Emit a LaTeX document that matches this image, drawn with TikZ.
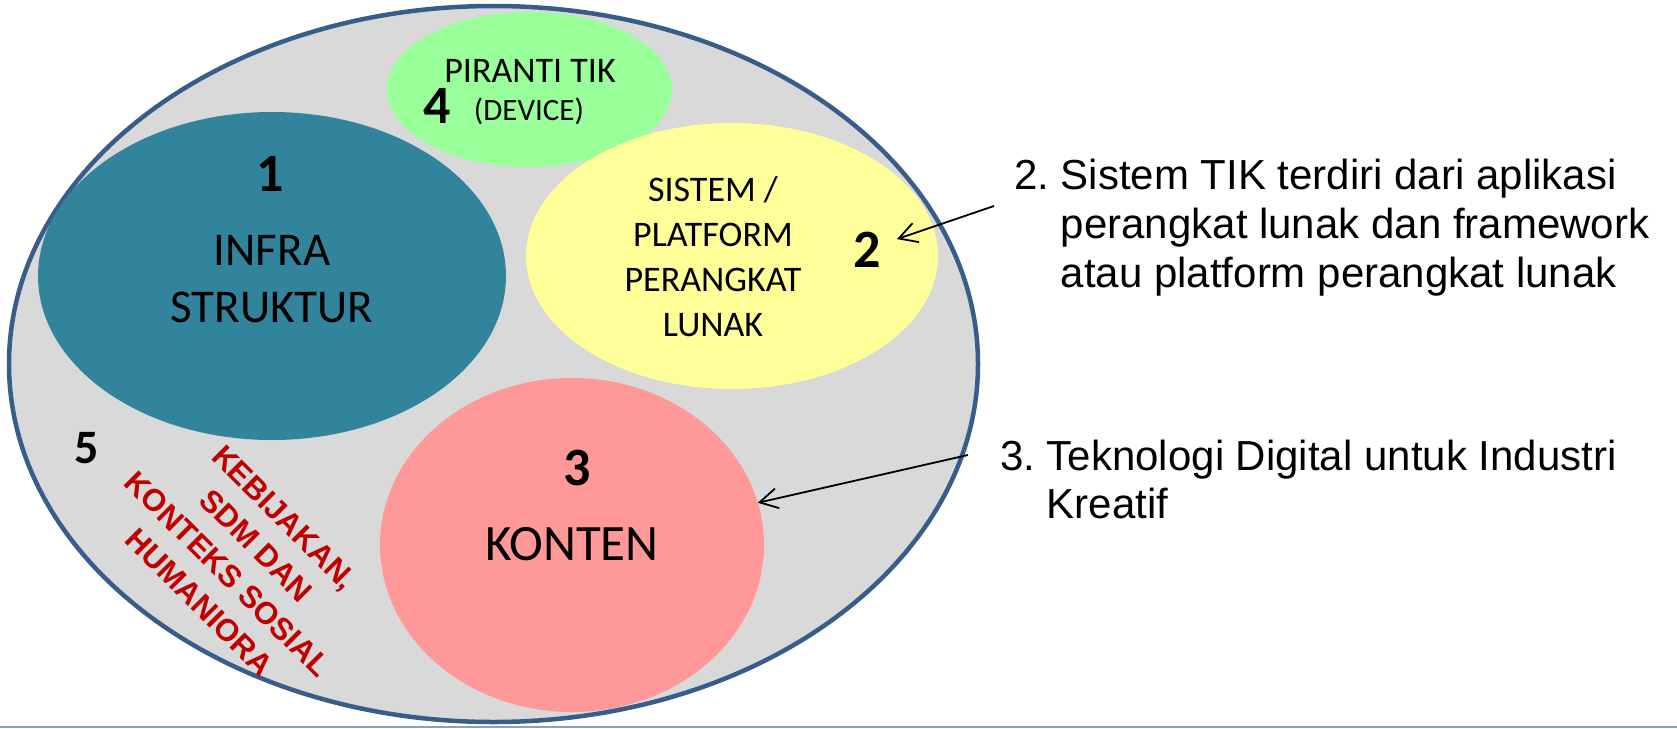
\documentclass[tikz,border=0pt]{standalone}
\usepackage{fontspec}
\setmainfont{Carlito}
\newfontfamily\arialfont{Liberation Sans}
\usetikzlibrary{shapes.geometric, arrows.meta, positioning}
\definecolor{rimblue}{RGB}{56,93,138}
\definecolor{zonegray}{RGB}{217,217,217}
\definecolor{infrateal}{RGB}{49,132,155}
\definecolor{devgreen}{RGB}{153,255,153}
\definecolor{sysyellow}{RGB}{255,255,153}
\definecolor{contpink}{RGB}{255,153,153}
\definecolor{policyred}{RGB}{192,0,0}
\definecolor{footline}{RGB}{140,160,190}

\begin{document}
\begin{tikzpicture}[x=1pt, y=-1pt,
  blob/.style={ellipse, inner sep=0pt, outer sep=0pt},
  numlbl/.style={anchor=base, inner sep=0pt, font=\fontsize{54}{54}\selectfont\bfseries},
  pointer/.style={-{Straight Barb[length=18pt,width=20pt]}, line width=1.8pt}]

  \fill[white] (0,0) rectangle (1677,728);
  \useasboundingbox (0,0) rectangle (1677,728);

  % outer field
  \node[blob, draw=rimblue, line width=4.5pt, fill=zonegray, minimum width=969pt, minimum height=716pt] (field) at (493.5,364) {};

  % the four areas
  \node[blob, fill=infrateal, minimum width=468pt, minimum height=328pt] (infra) at (272,276) {};
  \node[blob, fill=devgreen, minimum width=285pt, minimum height=155pt] (device) at (529.5,89.5) {};
  \node[blob, fill=sysyellow, minimum width=412pt, minimum height=266pt] (system) at (732,256) {};
  \node[blob, fill=contpink, minimum width=384pt, minimum height=334pt] (content) at (572,545) {};

  % 1
  \node[numlbl] (n1) at (270,191) {1};
  \node[font=\fontsize{47}{57}\selectfont, align=center] (l1) at (272,279) {INFRA\\STRUKTUR};

  % 4
  \node[numlbl] (n4) at (437,123) {4};
  \node[font=\fontsize{36}{36}\selectfont, anchor=base] (l4) at (530,82) {PIRANTI TIK};
  \node[font=\fontsize{31}{31}\selectfont, anchor=base] (l4b) at (529,120) {(DEVICE)};

  % 2
  \node[numlbl] (n2) at (867,267) {2};
  \node[font=\fontsize{36}{45}\selectfont, align=center] (l2) at (713,257) {SISTEM /\\PLATFORM\\PERANGKAT\\LUNAK};

  % 3
  \node[numlbl] (n3) at (577,485) {3};
  \node[font=\fontsize{51}{51}\selectfont, anchor=base] (l3) at (572,560) {KONTEN};

  % 5
  \node[numlbl, font=\fontsize{48}{48}\selectfont\bfseries] (n5) at (87,463) {5};
  \node[font=\arialfont\bfseries\fontsize{31}{40}\selectfont, text=policyred, align=center, rotate=-45] (policy) at (242,560) {KEBIJAKAN,\\SDM DAN\\KONTEKS SOSIAL\\HUMANIORA};

  % notes on the right
  \node[anchor=base west, inner sep=0pt, font=\arialfont\fontsize{42}{49}\selectfont] (note2) at (1014,189) {\begin{tabular}[t]{@{}l@{\ }l@{}}2. & Sistem TIK terdiri dari aplikasi\\ & perangkat lunak dan framework\\ & atau platform perangkat lunak\end{tabular}};
  \node[anchor=base west, inner sep=0pt, font=\arialfont\fontsize{42}{48}\selectfont] (note3) at (1000,470) {\begin{tabular}[t]{@{}l@{\ }l@{}}3. & Teknologi Digital untuk Industri\\ & Kreatif\end{tabular}};

  \coordinate (tail2) at ([shift={(-20,17)}]note2.base west);
  \coordinate (tail3) at ([shift={(-32,-15)}]note3.base west);
  \draw[pointer, shorten >=17pt] (tail2) -- (n2);
  \draw[pointer] (tail3) -- (content);

  \draw[footline, line width=2pt] (0,727) -- (1677,727);
\end{tikzpicture}
\end{document}
